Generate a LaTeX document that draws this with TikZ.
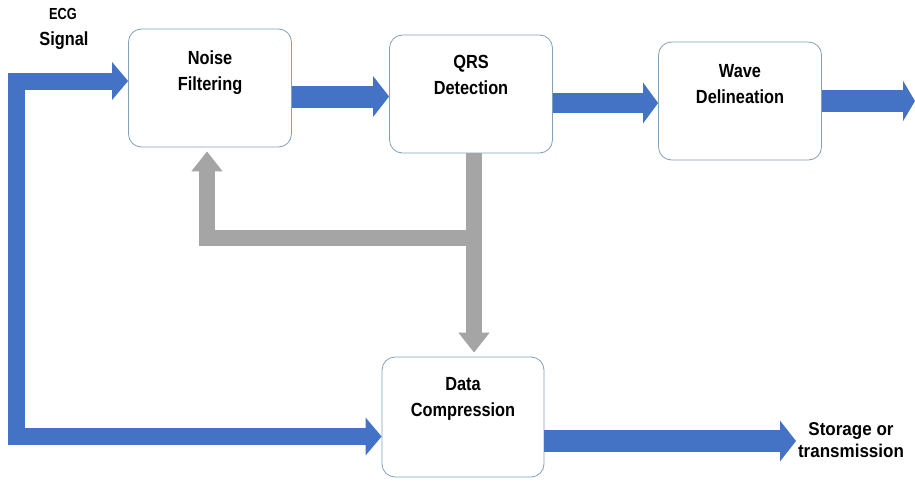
\documentclass[tikz,border=0pt]{standalone}
\usepackage{fontspec}
\setmainfont{Liberation Sans}
\newfontfamily\condfont[FakeStretch=0.86]{Liberation Sans}
\newfontfamily\ecgfont[FakeStretch=0.8]{Liberation Sans}
\newfontfamily\outfont[FakeStretch=0.92]{Liberation Sans}
\usetikzlibrary{arrows.meta}
\definecolor{flowblue}{HTML}{4472C4}
\definecolor{flowgray}{HTML}{A5A5A5}
\definecolor{boxline}{HTML}{7FA2BA}
\begin{document}
\begin{tikzpicture}[x=1pt,y=-1pt,
  stagebox/.style={draw=boxline, line width=0.8pt, fill=white, rounded corners=13pt,
    rectangle, inner sep=0pt, minimum width=163pt, minimum height=118pt},
  boxtext/.style={anchor=north, inner sep=0pt, align=center,
    font=\condfont\bfseries\fontsize{19}{26}\selectfont},
  bluearrow/.style={draw=flowblue, line width=#1, line join=miter},
  grayarrow/.style={draw=flowgray, line width=16pt, line join=miter,
    -{Triangle[length=20pt,width=30pt]}},
]
\useasboundingbox (0,0) rectangle (915,482);

% boxes
\node[stagebox] (nf) at (210,88) {};
\node[stagebox] (qrs) at (471,94) {};
\node[stagebox] (wd) at (740,101) {};
\node[stagebox, minimum width=162pt, minimum height=120pt] (dc) at (463,417) {};

% box texts
\node[boxtext] (nft) at ([yshift=-21.5pt]nf.north) {Noise\\Filtering};
\node[boxtext] (qrst) at ([yshift=-20.5pt]qrs.north) {QRS\\Detection};
\node[boxtext] (wdt) at ([yshift=-22.5pt]wd.north) {Wave\\Delineation};
\node[boxtext] (dct) at ([yshift=-21pt]dc.north) {Data\\Compression};

% outer labels
\node[anchor=north, inner sep=0pt, font=\ecgfont\bfseries\fontsize{16}{19}\selectfont] (ecg) at (63,8) {ECG};
\node[anchor=north, inner sep=0pt, font=\condfont\bfseries\fontsize{19}{22}\selectfont] (sig) at (64,32) {Signal};
\node[anchor=north, inner sep=0pt, align=center, font=\outfont\bfseries\fontsize{18.5}{22}\selectfont] (st) at (851,422) {Storage or\\transmission};

% coordinates
\coordinate (ecgc) at (16.5,81);
\coordinate (dcin) at ([yshift=-19.5pt]dc.west);
\coordinate (nfin) at ([yshift=7pt]nf.west);
\coordinate (wdout) at (915,101);
\coordinate (stin) at (796,441);
\coordinate (gx) at (474,0);
\coordinate (gj) at (474,237.5);
\coordinate (gl) at (207,237.5);

% blue input L-connector
\draw[bluearrow=17pt, {Triangle[length=16pt,width=37pt]}-{Triangle[length=16pt,width=37pt]}]
  (dcin) -- (ecgc |- dcin) -- (ecgc) -- (nfin);

% blue chain arrows
\draw[bluearrow=22pt, -{Triangle[length=16pt,width=40pt]}] ([yshift=-8.5pt]nf.east) -- ([yshift=-2.5pt]qrs.west);
\draw[bluearrow=20pt, -{Triangle[length=15pt,width=40pt]}] ([yshift=-9pt]qrs.east) -- ([yshift=-2pt]wd.west);
\draw[bluearrow=22pt, -{Triangle[length=12pt,width=40pt]}] (wd.east |- wdout) -- (wdout);
\draw[bluearrow=22pt, -{Triangle[length=16pt,width=40pt]}] (dc.east |- stin) -- (stin);

% gray feedback arrows
\draw[grayarrow] (qrs.south -| gx) -- ([yshift=4pt]dc.north -| gx);
\draw[grayarrow] (gj) -- (gl) -- ([yshift=-4pt]nf.south -| gl);
\end{tikzpicture}
\end{document}
